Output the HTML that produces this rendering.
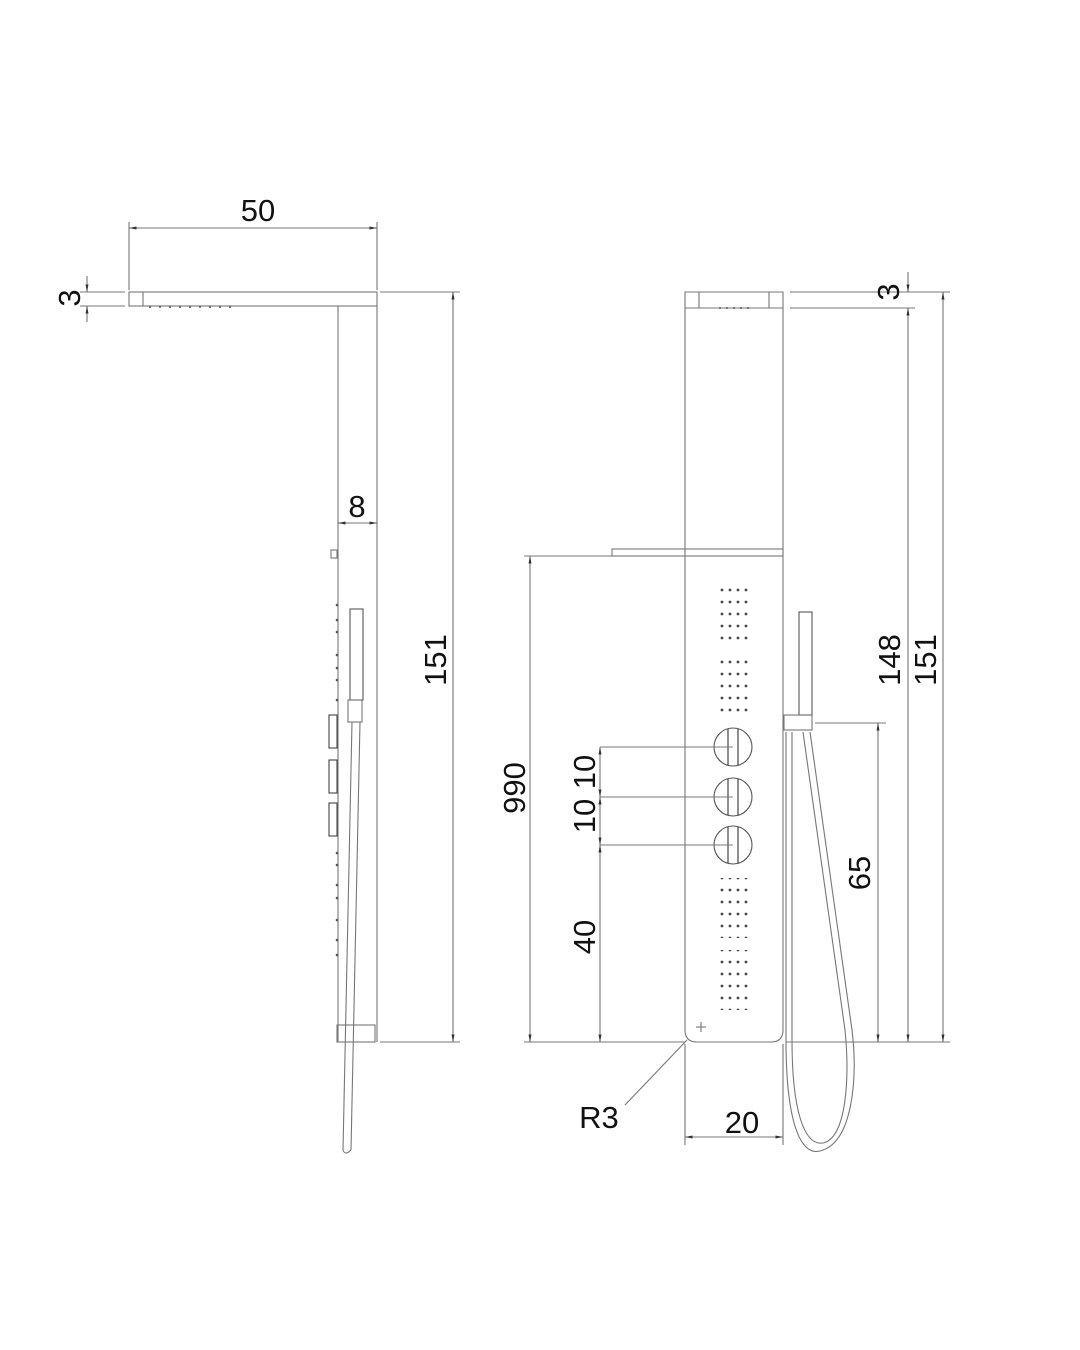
<!DOCTYPE html>
<html><head><meta charset="utf-8"><style>
html,body{margin:0;padding:0;background:#fff;}
svg{display:block;}
text{font-family:"Liberation Sans",Arial,sans-serif;fill:#111;font-size:31px;}
</style></head><body>
<svg width="1080" height="1350" viewBox="0 0 1080 1350" xmlns="http://www.w3.org/2000/svg">
<defs>
<marker id="a" viewBox="0 0 10 10" refX="10" refY="5" markerWidth="7" markerHeight="7" orient="auto-start-reverse"><path d="M0,3 L10,5 L0,7z" fill="#333"/></marker>
<pattern id="dots" width="8" height="12" patternUnits="userSpaceOnUse"><circle cx="2" cy="2" r="1.4" fill="#444"/></pattern>
</defs>
<g stroke="#777" stroke-width="1.1" fill="none">
<!-- LEFT VIEW -->
<line x1="129" y1="222" x2="129" y2="290"/>
<line x1="377" y1="222" x2="377" y2="290"/>
<line x1="129" y1="228" x2="377" y2="228" marker-start="url(#a)" marker-end="url(#a)"/>
<rect x="129" y="292" width="248" height="14"/>
<line x1="143" y1="292" x2="143" y2="306"/>
<line x1="80" y1="292" x2="125" y2="292"/>
<line x1="80" y1="306" x2="125" y2="306"/>
<line x1="87" y1="276" x2="87" y2="292" marker-end="url(#a)"/>
<line x1="87" y1="322" x2="87" y2="306" marker-end="url(#a)"/>
<line x1="338" y1="306" x2="338" y2="1042"/>
<line x1="377" y1="306" x2="377" y2="1042"/>
<line x1="338" y1="523" x2="377" y2="523" marker-start="url(#a)" marker-end="url(#a)"/>
<rect x="331" y="550" width="6" height="8"/>
<rect x="350" y="609" width="13" height="91" stroke="#555"/>
<rect x="348" y="700" width="14" height="22"/>
<rect x="329" y="715" width="8" height="33" stroke="#444"/>
<rect x="329" y="760" width="8" height="33" stroke="#444"/>
<rect x="329" y="803" width="8" height="33" stroke="#444"/>
<rect x="337" y="1025" width="38" height="17"/>
<line x1="352" y1="722" x2="343" y2="1150"/>
<line x1="360" y1="722" x2="351" y2="1150"/>
<path d="M343,1150 Q345,1156 351,1150"/>
<line x1="380" y1="1042" x2="460" y2="1042"/>
<line x1="380" y1="292" x2="460" y2="292"/>
<line x1="453" y1="292" x2="453" y2="1042" marker-start="url(#a)" marker-end="url(#a)"/>
<!-- RIGHT VIEW -->
<path d="M685,292 L783,292 L783,1030 Q783,1042 771,1042 L697,1042 Q685,1042 685,1030 Z"/>
<line x1="685" y1="308" x2="783" y2="308"/>
<line x1="699" y1="292" x2="699" y2="308"/>
<line x1="769" y1="292" x2="769" y2="308"/>
<rect x="612" y="549" width="171" height="7"/>
<circle cx="733" cy="747" r="19" stroke="#555"/>
<circle cx="733" cy="797" r="19" stroke="#555"/>
<circle cx="733" cy="845" r="19" stroke="#555"/>
<line x1="728" y1="729" x2="728" y2="765" stroke="#333"/><line x1="738" y1="729" x2="738" y2="765" stroke="#333"/>
<line x1="728" y1="779" x2="728" y2="815" stroke="#333"/><line x1="738" y1="779" x2="738" y2="815" stroke="#333"/>
<line x1="728" y1="827" x2="728" y2="863" stroke="#333"/><line x1="738" y1="827" x2="738" y2="863" stroke="#333"/>
<line x1="600" y1="747" x2="733" y2="747"/>
<line x1="600" y1="797" x2="733" y2="797"/>
<line x1="600" y1="845" x2="733" y2="845"/>
<line x1="524" y1="556" x2="612" y2="556"/>
<line x1="524" y1="1042" x2="685" y2="1042"/>
<line x1="530" y1="556" x2="530" y2="1042" marker-start="url(#a)" marker-end="url(#a)"/>
<line x1="600" y1="747" x2="600" y2="797" marker-start="url(#a)" marker-end="url(#a)"/>
<line x1="600" y1="797" x2="600" y2="845" marker-start="url(#a)" marker-end="url(#a)"/>
<line x1="600" y1="845" x2="600" y2="1042" marker-start="url(#a)" marker-end="url(#a)"/>
<line x1="696" y1="1027" x2="706" y2="1027"/><line x1="701" y1="1022" x2="701" y2="1032"/>
<line x1="687" y1="1040" x2="625" y2="1105"/>
<line x1="685" y1="1044" x2="685" y2="1145"/>
<line x1="783" y1="1044" x2="783" y2="1145"/>
<line x1="685" y1="1137" x2="783" y2="1137" marker-start="url(#a)" marker-end="url(#a)"/>
<rect x="799" y="612" width="13" height="103" stroke="#555"/>
<rect x="784" y="715" width="28" height="15"/>
<path d="M786,732 L786,1040 C786,1120 800,1160 823,1150 C852,1140 858,1080 852,1030 L810,732"/>
<path d="M792,732 L792,1040 C792,1110 804,1146 823,1143 C846,1138 850,1080 845,1030 L803,732"/>
<line x1="815" y1="723" x2="886" y2="723"/>
<line x1="786" y1="1042" x2="950" y2="1042"/>
<line x1="878" y1="723" x2="878" y2="1042" marker-start="url(#a)" marker-end="url(#a)"/>
<line x1="790" y1="292" x2="950" y2="292"/>
<line x1="790" y1="308" x2="915" y2="308"/>
<line x1="908" y1="272" x2="908" y2="292" marker-end="url(#a)"/>
<line x1="908" y1="308" x2="908" y2="1042" marker-start="url(#a)" marker-end="url(#a)"/>
<line x1="943" y1="292" x2="943" y2="1042" marker-start="url(#a)" marker-end="url(#a)"/>
</g>
<rect x="720" y="582" width="32" height="60" fill="url(#dots)"/>
<rect x="720" y="658" width="32" height="60" fill="url(#dots)"/>
<rect x="720" y="878" width="32" height="60" fill="url(#dots)"/>
<rect x="720" y="950" width="32" height="60" fill="url(#dots)"/>
<g fill="#555"><circle cx="337" cy="605" r="1.3"/><circle cx="337" cy="620" r="1.3"/><circle cx="337" cy="632" r="1.3"/><circle cx="337" cy="655" r="1.3"/><circle cx="337" cy="668" r="1.3"/><circle cx="337" cy="680" r="1.3"/><circle cx="337" cy="700" r="1.3"/><circle cx="337" cy="853" r="1.3"/><circle cx="337" cy="865" r="1.3"/><circle cx="337" cy="885" r="1.3"/><circle cx="337" cy="898" r="1.3"/><circle cx="337" cy="920" r="1.3"/><circle cx="337" cy="940" r="1.3"/><circle cx="337" cy="955" r="1.3"/>
<circle cx="150" cy="307" r="1"/><circle cx="160" cy="307" r="1"/><circle cx="170" cy="307" r="1"/><circle cx="180" cy="307" r="1"/><circle cx="190" cy="307" r="1"/><circle cx="200" cy="307" r="1"/><circle cx="210" cy="307" r="1"/><circle cx="220" cy="307" r="1"/><circle cx="230" cy="307" r="1"/>
<circle cx="720" cy="308" r="1"/><circle cx="727" cy="308" r="1"/><circle cx="734" cy="308" r="1"/><circle cx="741" cy="308" r="1"/><circle cx="748" cy="308" r="1"/></g>
<text x="258" y="221" text-anchor="middle">50</text>
<text x="357" y="517" text-anchor="middle">8</text>
<text transform="translate(80,298) rotate(-90)" text-anchor="middle">3</text>
<text transform="translate(446,660) rotate(-90)" text-anchor="middle">151</text>
<text transform="translate(899,292) rotate(-90)" text-anchor="middle">3</text>
<text transform="translate(900,660) rotate(-90)" text-anchor="middle">148</text>
<text transform="translate(936,660) rotate(-90)" text-anchor="middle">151</text>
<text transform="translate(870,873) rotate(-90)" text-anchor="middle">65</text>
<text transform="translate(525,788) rotate(-90)" text-anchor="middle">990</text>
<text transform="translate(595,772) rotate(-90)" text-anchor="middle">10</text>
<text transform="translate(595,816) rotate(-90)" text-anchor="middle">10</text>
<text transform="translate(595,937) rotate(-90)" text-anchor="middle">40</text>
<text x="599" y="1128" text-anchor="middle">R3</text>
<text x="742" y="1133" text-anchor="middle">20</text>
</svg>
</body></html>
